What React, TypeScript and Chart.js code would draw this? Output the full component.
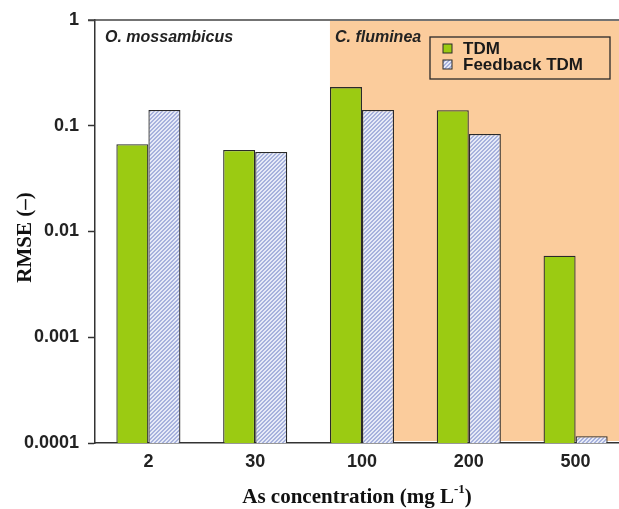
import React, { useEffect, useRef } from "react";
import { Chart, registerables } from "chart.js";

Chart.register(...registerables);

const categories = ["2", "30", "100", "200", "500"];
const tdmValues = [0.067, 0.059, 0.232, 0.14, 0.0059];
const feedbackValues = [0.141, 0.0565, 0.141, 0.0836, 0.000116];
const yTickValues = [0.0001, 0.001, 0.01, 0.1, 1];
const seriesLabels = ["TDM", "Feedback TDM"];
const groupLabels = ["O. mossambicus", "C. fluminea"];

const GREEN = "#9BCB12";
const ORANGE = "#FBCC9C";
const DARK = "#2a2a2a";

function makeHatch(): CanvasPattern | string {
  const c = document.createElement("canvas");
  c.width = 4;
  c.height = 4;
  const ctx = c.getContext("2d");
  if (!ctx) return "#C5CCEA";
  ctx.fillStyle = "#E6EAF7";
  ctx.fillRect(0, 0, 4, 4);
  ctx.fillStyle = "#A7B2DD";
  for (let x = 0; x < 4; x++) {
    for (let y = 0; y < 4; y++) {
      const k = (x + y) % 4;
      if (k === 0 || k === 1) ctx.fillRect(x, y, 1, 1);
    }
  }
  const p = ctx.createPattern(c, "repeat");
  return p || "#C5CCEA";
}

export default function App() {
  const ref = useRef<HTMLCanvasElement | null>(null);

  useEffect(() => {
    document.body.style.margin = "0";
    const canvas = ref.current;
    if (!canvas) return;
    const hatch = makeHatch();

    const decor = {
      id: "decor",
      beforeDatasetsDraw(chart: any) {
        const { ctx, chartArea, scales } = chart;
        const x = scales.x;
        const catW = (chartArea.right - chartArea.left) / categories.length;
        const startX = x.getPixelForValue(2) - catW * 0.3;
        ctx.save();
        ctx.fillStyle = ORANGE;
        ctx.fillRect(startX, chartArea.top + 1, chartArea.right - startX, chartArea.bottom - chartArea.top - 3);
        ctx.restore();
      },
      afterDraw(chart: any) {
        const { ctx, chartArea, scales } = chart;
        const x = scales.x;
        const catW = (chartArea.right - chartArea.left) / categories.length;
        ctx.save();
        // top frame line
        ctx.strokeStyle = "#444";
        ctx.lineWidth = 1.5;
        ctx.beginPath();
        ctx.moveTo(chartArea.left - 7, chartArea.top);
        ctx.lineTo(chartArea.right, chartArea.top);
        ctx.stroke();

        // group labels
        ctx.fillStyle = "#222";
        ctx.font = "italic bold 16px 'Liberation Sans', Arial, sans-serif";
        ctx.textBaseline = "alphabetic";
        ctx.textAlign = "left";
        ctx.fillText(groupLabels[0], chartArea.left + 10, chartArea.top + 22);
        ctx.fillText(groupLabels[1], x.getPixelForValue(2) - catW * 0.3 + 5, chartArea.top + 22);

        // legend
        const lx = 430, ly = 37, lw = 180, lh = 42;
        ctx.strokeStyle = DARK;
        ctx.lineWidth = 1.3;
        ctx.strokeRect(lx, ly, lw, lh);
        const swatches = [GREEN, hatch];
        ctx.font = "bold 17px 'Liberation Sans', Arial, sans-serif";
        ctx.textBaseline = "middle";
        for (let i = 0; i < 2; i++) {
          const sy = ly + 7 + i * 16;
          ctx.fillStyle = swatches[i] as any;
          ctx.fillRect(lx + 13, sy, 9, 9);
          ctx.strokeStyle = DARK;
          ctx.lineWidth = 1;
          ctx.strokeRect(lx + 13, sy, 9, 9);
          ctx.fillStyle = "#1a1a1a";
          ctx.fillText(seriesLabels[i], lx + 33, sy + 5);
        }

        // x title with superscript
        ctx.fillStyle = "#111";
        ctx.textBaseline = "alphabetic";
        const mainFont = "bold 21px 'Liberation Serif', 'Times New Roman', serif";
        const supFont = "bold 13px 'Liberation Serif', 'Times New Roman', serif";
        const part1 = "As concentration (mg L";
        const sup = "-1";
        const part2 = ")";
        ctx.font = mainFont;
        const w1 = ctx.measureText(part1).width;
        const w3 = ctx.measureText(part2).width;
        ctx.font = supFont;
        const w2 = ctx.measureText(sup).width;
        const total = w1 + w2 + w3;
        const cx = 357;
        let tx = cx - total / 2;
        const by = 503;
        ctx.font = mainFont;
        ctx.textAlign = "left";
        ctx.fillText(part1, tx, by);
        tx += w1;
        ctx.font = supFont;
        ctx.fillText(sup, tx, by - 10);
        tx += w2;
        ctx.font = mainFont;
        ctx.fillText(part2, tx, by);

        // y title
        ctx.save();
        ctx.translate(31, (chartArea.top + chartArea.bottom) / 2 + 6);
        ctx.rotate(-Math.PI / 2);
        ctx.textAlign = "center";
        ctx.textBaseline = "alphabetic";
        ctx.font = mainFont;
        ctx.fillText("RMSE (\u2013)", 0, 0);
        ctx.restore();

        ctx.restore();
      },
    };

    const chart = new Chart(canvas, {
      type: "bar",
      data: {
        labels: categories,
        datasets: [
          {
            label: seriesLabels[0],
            data: tdmValues,
            backgroundColor: GREEN,
            borderColor: DARK,
            borderWidth: 1.3,
            borderSkipped: "bottom",
            categoryPercentage: 0.6,
            barPercentage: 1.0,
          },
          {
            label: seriesLabels[1],
            data: feedbackValues,
            backgroundColor: hatch as any,
            borderColor: DARK,
            borderWidth: 1.3,
            borderSkipped: "bottom",
            categoryPercentage: 0.6,
            barPercentage: 1.0,
          },
        ],
      },
      options: {
        responsive: false,
        animation: false,
        layout: { padding: { top: 20, right: 0, left: 0, bottom: 0 } },
        plugins: {
          legend: { display: false },
          tooltip: { enabled: false },
          title: { display: false },
        },
        scales: {
          x: {
            offset: true,
            grid: { display: false, drawTicks: false },
            border: { display: true, color: "#333", width: 1.5 },
            ticks: {
              padding: 8,
              color: "#222",
              font: { family: "'Liberation Sans', Arial, sans-serif", size: 18, weight: "bold" },
            },
            afterFit(scale: any) {
              scale.height = 66;
            },
          },
          y: {
            type: "logarithmic",
            min: 0.0001,
            max: 1,
            grid: {
              display: true,
              drawOnChartArea: false,
              drawTicks: true,
              tickLength: 7,
              tickColor: "#333",
              tickWidth: 1.5,
            },
            border: { display: true, color: "#333", width: 1.5 },
            ticks: {
              padding: 9,
              color: "#222",
              font: { family: "'Liberation Sans', Arial, sans-serif", size: 18, weight: "bold" },
              callback: (v: any) => String(v),
            },
            afterBuildTicks(scale: any) {
              scale.ticks = yTickValues.map((v) => ({ value: v, major: false }));
            },
            afterFit(scale: any) {
              scale.width = 95;
            },
          },
        },
      },
      plugins: [decor],
    });

    return () => {
      chart.destroy();
    };
  }, []);

  return (
    <div style={{ width: 619, height: 509, overflow: "hidden" }}>
      <canvas ref={ref} width={629} height={509} style={{ display: "block" }} />
    </div>
  );
}
